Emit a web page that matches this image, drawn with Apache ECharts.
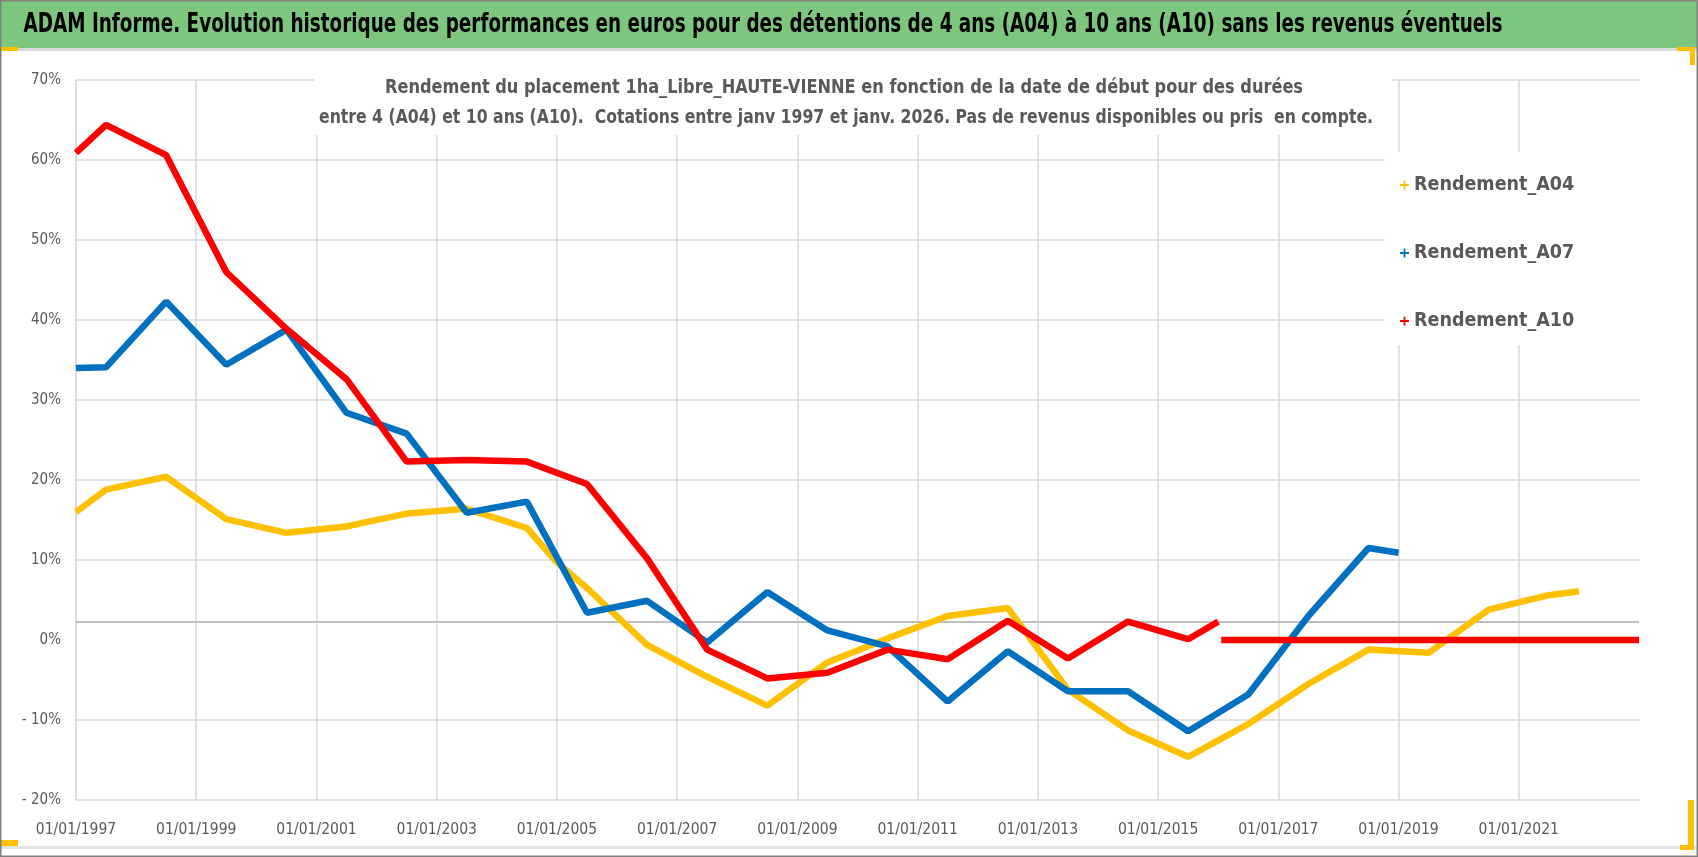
<!DOCTYPE html>
<html>
<head>
<meta charset="utf-8">
<script src="https://cdn.jsdelivr.net/npm/echarts@6/dist/echarts.min.js"></script>
<style>
html,body{margin:0;padding:0;background:#fff;}
#chart{width:1698px;height:857px;}
</style>
</head>
<body>
<div id="chart"></div>
<script>
// ---- data (x = decimal year of start date, y = return in %) ----
var a04Dates  = [1997.0,1997.5,1998.5,1999.5,2000.5,2001.5,2002.5,2003.5,2004.5,2005.0,2005.5,2006.5,2007.5,2008.5,2009.5,2010.5,2011.5,2012.5,2013.5,2014.5,2015.5,2016.5,2017.5,2018.5,2019.5,2020.5,2021.5,2022.0];
var a04Values = [16.0,18.8,20.4,15.1,13.4,14.2,15.8,16.4,14.0,9.7,6.5,-0.6,-4.6,-8.2,-2.8,0.2,3.0,4.0,-6.2,-11.3,-14.6,-10.5,-5.5,-1.2,-1.6,3.8,5.6,6.1];

var a07Dates  = [1997.0,1997.5,1998.5,1999.5,2000.5,2001.5,2002.5,2003.5,2004.5,2005.5,2006.5,2007.5,2008.5,2009.5,2010.5,2011.5,2012.5,2013.5,2014.5,2015.5,2016.5,2017.5,2018.5,2019.0];
var a07Values = [34.0,34.1,42.3,34.4,38.8,28.4,25.8,15.9,17.3,3.4,4.9,-0.3,6.0,1.2,-0.8,-7.7,-1.4,-6.4,-6.4,-11.4,-6.8,3.0,11.5,10.9];

var a10Dates  = [1997.0,1997.5,1998.5,1999.5,2000.5,2001.5,2002.5,2003.5,2004.5,2005.5,2006.5,2007.5,2008.5,2009.5,2010.5,2011.5,2012.5,2013.5,2014.5,2015.5,2016.0,2016.02,2016.05,2023.0];
var a10Values = [60.9,64.4,60.6,46.0,38.9,32.6,22.3,22.5,22.3,19.5,10.2,-1.2,-4.8,-4.1,-1.2,-2.4,2.4,-2.3,2.3,0.1,2.3,null,0,0];

var seriesNames  = ['Rendement_A04','Rendement_A07','Rendement_A10'];
var yTicks = [-20,-10,0,10,20,30,40,50,60,70];

var titleText = 'ADAM Informe. Evolution historique des performances en euros pour des détentions de 4 ans (A04) à 10 ans (A10) sans les revenus éventuels';
var subLine1 = 'Rendement du placement 1ha_Libre_HAUTE-VIENNE en fonction de la date de début pour des durées';
var subLine2 = 'entre 4 (A04) et 10 ans (A10).  Cotations entre janv 1997 et janv. 2026. Pas de revenus disponibles ou pris  en compte.';

function pairs(xs, ys){ return xs.map(function(x,i){ return [x, ys[i] === null ? '-' : ys[i]]; }); }

var FONT = '"DejaVu Sans Condensed","Liberation Sans Narrow","DejaVu Sans",sans-serif';
var colors = ['#FFC000','#0070C0','#FF0000'];
var plus = 'path://M4,0h2v4h4v2h-4v4h-2v-4h-4v-2h4z';

var ySplitColors = yTicks.map(function(v){ return v === 0 ? 'rgba(0,0,0,0)' : '#d9d9d9'; });

// fit a text line horizontally to a target width (Calibri-like condensed look)
var measureCtx = document.createElement('canvas').getContext('2d');
function fitScale(text, font, target){
  measureCtx.font = font;
  var w = measureCtx.measureText(text).width;
  return w > 0 ? target / w : 1;
}
var titleFont = 'bold 27px ' + FONT;
var subFont = 'bold 20px ' + FONT;

function textEl(text, font, fill, cx, cy, targetW){
  return {
    type: 'text', z: 11, x: cx, y: cy,
    scaleX: fitScale(text, font, targetW), scaleY: 1,
    style: {text: text, x: 0, y: 0, font: font, fill: fill,
            textAlign: 'center', textVerticalAlign: 'middle', align: 'center', verticalAlign: 'middle'}
  };
}

var chart = echarts.init(document.getElementById('chart'));
var W = 1698, H = 857;
chart.setOption({
  backgroundColor: '#ffffff',
  animation: false,
  grid: {left: 76, right: 59, top: 80, bottom: 57, containLabel: false},
  xAxis: {
    type: 'value', min: 1997, max: 2023, interval: 2,
    axisLine: {show: false},
    axisTick: {show: false},
    axisLabel: {
      margin: 22, color: '#595959', fontSize: 15.5, fontFamily: FONT,
      formatter: function(v){ return v >= 2023 ? '' : '01/01/' + v; }
    },
    splitLine: {show: true, showMaxLine: false, lineStyle: {color: '#d9d9d9', width: 1.5}}
  },
  yAxis: {
    type: 'value', min: -20, max: 70, interval: 10,
    axisLine: {show: true, lineStyle: {color: '#d9d9d9', width: 1.5}},
    axisTick: {show: false},
    axisLabel: {
      margin: 15, color: '#595959', fontSize: 15, fontFamily: FONT,
      formatter: function(v){ return v < 0 ? '- ' + Math.abs(v) + '%' : v + '%'; }
    },
    splitLine: {show: true, lineStyle: {color: ySplitColors, width: 1.5}}
  },
  legend: {
    orient: 'vertical', left: 1395, top: 170, itemGap: 48,
    itemWidth: 9, itemHeight: 9, icon: plus,
    textStyle: {color: '#595959', fontSize: 19.5, fontWeight: 'bold', fontFamily: FONT},
    data: seriesNames
  },
  graphic: [
    // white boxes behind subtitle and legend (hide gridlines)
    {type: 'rect', z: 1, shape: {x: 314, y: 62, width: 1078, height: 73}, style: {fill: '#ffffff'}},
    {type: 'rect', z: 1, shape: {x: 1385, y: 152, width: 313, height: 193}, style: {fill: '#ffffff'}},
    // title bar
    {type: 'rect', z: 10, shape: {x: 0, y: 0, width: W, height: 48}, style: {fill: '#7DC67E'}},
    {type: 'rect', z: 10, shape: {x: 0, y: 48, width: W, height: 3}, style: {fill: '#d9d9d9'}},
    {type: 'rect', z: 10, shape: {x: 0, y: 846, width: W, height: 3}, style: {fill: '#e3e3e3'}},
    textEl(titleText, titleFont, '#000000', 763, 25, 1479),
    textEl(subLine1, subFont, '#595959', 844, 88, 918),
    textEl(subLine2, subFont, '#595959', 846, 118, 1054),
    // corner accents
    {type: 'rect', z: 11, shape: {x: 0, y: 47, width: 18, height: 4}, style: {fill: '#FFC000'}},
    {type: 'rect', z: 11, shape: {x: 1677, y: 47, width: 18, height: 4}, style: {fill: '#FFC000'}},
    {type: 'rect', z: 11, shape: {x: 1690, y: 47, width: 5, height: 18}, style: {fill: '#FFC000'}},
    {type: 'rect', z: 11, shape: {x: 1688, y: 800, width: 6, height: 50}, style: {fill: '#FFC000'}},
    {type: 'rect', z: 11, shape: {x: 1680, y: 845, width: 14, height: 5}, style: {fill: '#FFC000'}},
    {type: 'rect', z: 11, shape: {x: 0, y: 840, width: 18, height: 6}, style: {fill: '#FFC000'}},
    // outer frame
    {type: 'rect', z: 12, shape: {x: 0.5, y: 0.5, width: W - 1, height: H - 1}, style: {fill: 'none', stroke: '#808080', lineWidth: 2}}
  ],
  series: [
    {
      name: seriesNames[0], type: 'line', data: pairs(a04Dates, a04Values),
      showSymbol: false, symbol: 'none', color: colors[0],
      lineStyle: {width: 6.5, color: colors[0]}, z: 3,
      markLine: {
        silent: true, symbol: 'none', label: {show: false},
        lineStyle: {color: '#bfbfbf', width: 1.8, type: 'solid'},
        data: [{yAxis: 2.3}], z: 2
      }
    },
    {
      name: seriesNames[1], type: 'line', data: pairs(a07Dates, a07Values),
      showSymbol: false, symbol: 'none', color: colors[1],
      lineStyle: {width: 6.5, color: colors[1]}, z: 4
    },
    {
      name: seriesNames[2], type: 'line', data: pairs(a10Dates, a10Values),
      showSymbol: false, symbol: 'none', color: colors[2], connectNulls: false,
      lineStyle: {width: 6.5, color: colors[2]}, z: 5
    }
  ]
});
</script>
</body>
</html>
